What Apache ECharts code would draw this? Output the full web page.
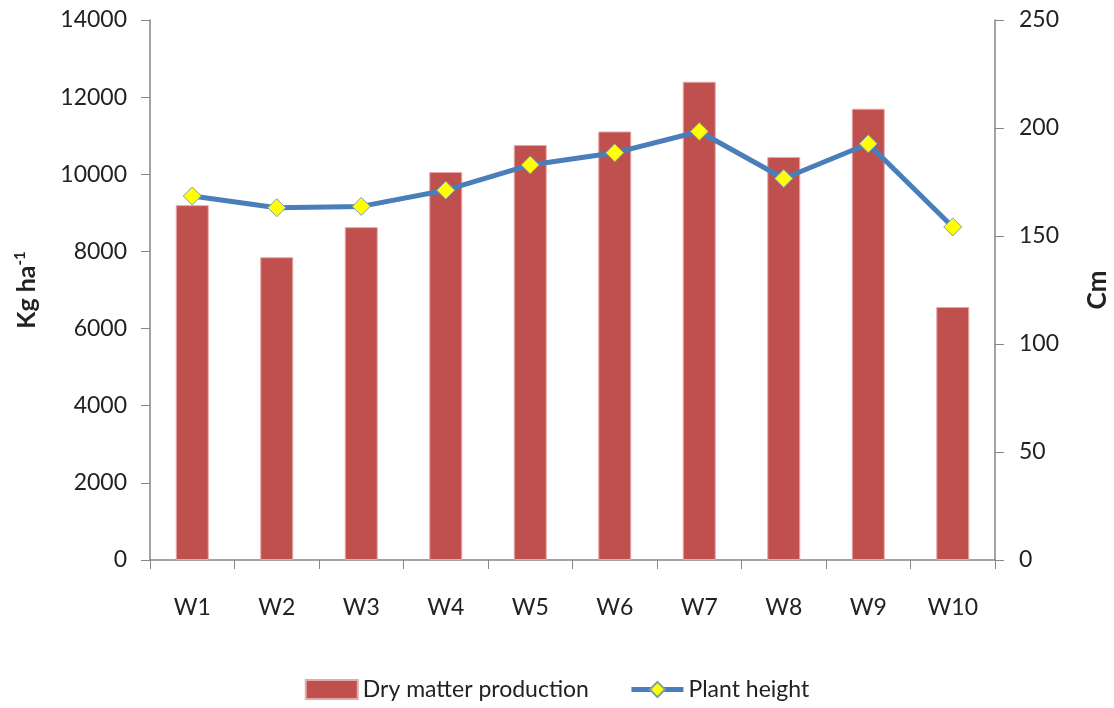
<!DOCTYPE html>
<html><head><meta charset="utf-8">
<script src="https://cdn.jsdelivr.net/npm/echarts@6/dist/echarts.min.js"></script>
<style>html,body{margin:0;padding:0;background:#fff}#c{width:1114px;height:708px}</style>
</head><body><div id="c"></div>
<script>
const categories = ['W1','W2','W3','W4','W5','W6','W7','W8','W9','W10'];
const dryMatter = [9200, 7850, 8630, 10060, 10760, 11110, 12400, 10450, 11700, 6560];
const plantHeight = [168.5, 163.1, 163.7, 171.2, 182.9, 188.5, 198.4, 176.6, 192.7, 154.2];
const leftTicks = [0, 2000, 4000, 6000, 8000, 10000, 12000, 14000];
const rightTicks = [0, 50, 100, 150, 200, 250];

const FONT = 'Lato, "Open Sans", sans-serif';
const axisGray = '#868686';
const chart = echarts.init(document.getElementById('c'), null, {renderer:'canvas'});
chart.setOption({
  animation: false,
  grid: {left: 150, right: 119, top: 20, bottom: 148, containLabel: false, outerBoundsMode: 'none'},
  legend: {
    bottom: 2, left: 'center', itemGap: 40,
    textStyle: {fontFamily: FONT, fontSize: 23, color: '#222'},
    data: [
      {name: 'Dry matter production', icon: 'rect', itemStyle: {color: '#C0504D'}},
      {name: 'Plant height', lineStyle: {width: 5, color: '#4A7EBB'}}
    ],
    itemWidth: 52, itemHeight: 19
  },
  xAxis: {
    type: 'category', data: categories,
    axisLine: {lineStyle: {color: axisGray, width: 1.5}},
    axisTick: {show: true, length: 9, alignWithLabel: false, lineStyle: {color: axisGray}},
    axisLabel: {color: '#222', fontFamily: FONT, fontSize: 23, margin: 36}
  },
  yAxis: [
    {
      type: 'value', min: 0, max: 14000, interval: 2000,
      name: 'Kg ha{sup|-1}', nameLocation: 'middle', nameGap: 110, nameRotate: 90,
      nameTextStyle: {fontFamily: FONT, fontSize: 25, fontWeight: 'bold', color: '#222',
        rich: {sup: {fontSize: 15, fontWeight: 'bold', verticalAlign: 'top', padding: [0,0,12,0], fontFamily: FONT, color:'#222'}}},
      axisLine: {show: true, lineStyle: {color: axisGray, width: 1.5}},
      axisTick: {show: true, length: 9, lineStyle: {color: axisGray}},
      splitLine: {show: false},
      axisLabel: {color: '#222', fontFamily: FONT, fontSize: 23, margin: 23,
        formatter: v => leftTicks.includes(v) ? String(v) : ''}
    },
    {
      type: 'value', min: 0, max: 250, interval: 50, position: 'right',
      name: 'Cm', nameLocation: 'middle', nameGap: 90, nameRotate: 90,
      nameTextStyle: {fontFamily: FONT, fontSize: 26, fontWeight: 'bold', color: '#222'},
      axisLine: {show: true, lineStyle: {color: axisGray, width: 1.5}},
      axisTick: {show: true, length: 9, lineStyle: {color: axisGray}},
      splitLine: {show: false},
      axisLabel: {color: '#222', fontFamily: FONT, fontSize: 23, margin: 24,
        formatter: v => rightTicks.includes(v) ? String(v) : ''}
    }
  ],
  series: [
    {
      name: 'Dry matter production', type: 'bar', data: dryMatter, yAxisIndex: 0,
      barWidth: 33,
      itemStyle: {color: '#C0504D', borderColor: '#E6A9A8', borderWidth: 1}
    },
    {
      name: 'Plant height', type: 'line', data: plantHeight, yAxisIndex: 1,
      symbol: 'diamond', symbolSize: 18,
      lineStyle: {color: '#4A7EBB', width: 5},
      itemStyle: {color: '#FFFF00', borderColor: '#7A9CB8', borderWidth: 1}
    }
  ]
});
</script></body></html>
